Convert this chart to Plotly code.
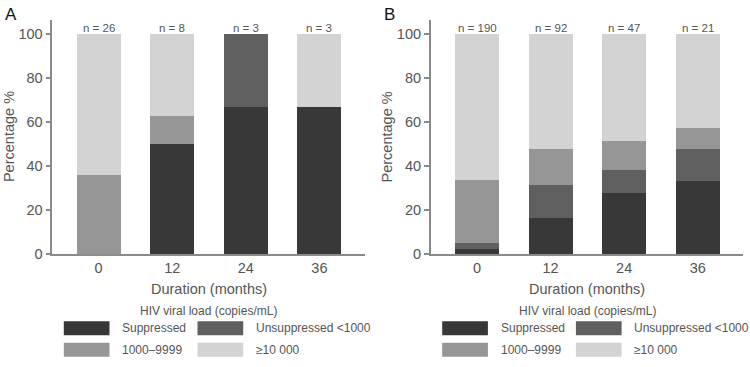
import plotly.graph_objects as go

# ---- data ----
months = ["0", "12", "24", "36"]
series_names = ["Suppressed", "Unsuppressed <1000", "1000–9999", "≥10 000"]
series_colors = ["#383838", "#5f5f5f", "#969696", "#d3d3d3"]

A_suppressed = [0, 50.0, 66.7, 66.7]
A_unsuppressed = [0, 0, 33.3, 0]
A_mid = [35.8, 12.5, 0, 0]
A_high = [64.2, 37.5, 0, 33.3]
A_n = [26, 8, 3, 3]

B_suppressed = [2.4, 16.3, 27.7, 33.3]
B_unsuppressed = [2.5, 15.2, 10.6, 14.3]
B_mid = [28.5, 16.3, 12.8, 9.5]
B_high = [66.6, 52.2, 48.9, 42.9]
B_n = [190, 92, 47, 21]

W, H = 750, 367
FONT = "Liberation Sans, Arial, sans-serif"
GREY_TXT = "#555555"
AX = "#8a8a8a"

def px_x(x):
    return x / W

def px_y(y):
    return (H - y) / H

fig = go.Figure()

panels = [
    ("A", "x", "y", [A_suppressed, A_unsuppressed, A_mid, A_high], A_n, 52.3, 365.0),
    ("B", "x2", "y2", [B_suppressed, B_unsuppressed, B_mid, B_high], B_n, 430.7, 743.3),
]

annotations = []
shapes = []
for label, xa, ya, vals, ns, left, right in panels:
    for name, color, v in zip(series_names, series_colors, vals):
        fig.add_trace(go.Bar(x=months, y=v, name=name, marker=dict(color=color, line=dict(width=0)),
                             width=0.6, xaxis=xa, yaxis=ya, showlegend=False))
    # n labels (category axis -> serial index)
    for i, n in enumerate(ns):
        annotations.append(dict(x=i, y=100, xref=xa, yref=ya, text=f"n = {n}", showarrow=False,
                                yanchor="bottom", yshift=-2, font=dict(size=11.5, color=GREY_TXT, family=FONT)))
    cx = (left + right) / 2
    # panel letter
    annotations.append(dict(x=px_x(left - 49), y=px_y(14.5), xref="paper", yref="paper", text=label,
                            showarrow=False, xanchor="left", yanchor="middle",
                            font=dict(size=17, color="#111111", family=FONT)))
    # axis titles
    annotations.append(dict(x=px_x(cx), y=px_y(295), xref="paper", yref="paper", text="Duration (months)",
                            showarrow=False, xanchor="center", yanchor="middle",
                            font=dict(size=14.5, color=GREY_TXT, family=FONT)))
    annotations.append(dict(x=px_x(left - 44), y=px_y(139.8), xref="paper", yref="paper", text="Percentage %",
                            showarrow=False, xanchor="center", yanchor="middle", textangle=-90,
                            font=dict(size=14.5, color=GREY_TXT, family=FONT)))
    # legend title
    annotations.append(dict(x=px_x(cx), y=px_y(318.3), xref="paper", yref="paper",
                            text="HIV viral load (copies/mL)", showarrow=False,
                            xanchor="center", yanchor="middle",
                            font=dict(size=12, color=GREY_TXT, family=FONT)))
    # legend entries 2x2
    col_off = [11.5, 145.2]
    row_y = [335.5, 357.5]
    for i, (name, color) in enumerate(zip(series_names, series_colors)):
        r, c = divmod(i, 2)
        x0 = left + col_off[c]
        yc = row_y[r]
        shapes.append(dict(type="rect", xref="paper", yref="paper",
                           x0=px_x(x0), x1=px_x(x0 + 45.7), y0=px_y(yc + 7.2), y1=px_y(yc - 7.2),
                           fillcolor=color, line=dict(width=0)))
        annotations.append(dict(x=px_x(x0 + 56.3), y=px_y(yc), xref="paper", yref="paper", text=name,
                                showarrow=False, xanchor="left", yanchor="middle",
                                font=dict(size=12, color=GREY_TXT, family=FONT)))

ydom = [px_y(259.7), px_y(20)]
axis_common = dict(showgrid=False, zeroline=False, showline=True, linecolor=AX, linewidth=1.5,
                   tickfont=dict(size=14.5, color=GREY_TXT, family=FONT))
xaxis_common = dict(axis_common, type="category", range=[-0.63, 3.62], ticks="", fixedrange=True)
yaxis_common = dict(axis_common, range=[0, 106.4], tickvals=[0, 20, 40, 60, 80, 100], ticks="outside",
                    ticklen=5, tickcolor=AX, tickwidth=1.5)

fig.update_layout(
    width=W, height=H, margin=dict(l=0, r=0, t=0, b=0),
    paper_bgcolor="white", plot_bgcolor="white", barmode="stack", bargap=0.4,
    font=dict(family=FONT),
    xaxis=dict(xaxis_common, domain=[px_x(52.3), px_x(365.0)], anchor="y"),
    yaxis=dict(yaxis_common, domain=ydom, anchor="x"),
    xaxis2=dict(xaxis_common, domain=[px_x(430.7), px_x(743.3)], anchor="y2"),
    yaxis2=dict(yaxis_common, domain=ydom, anchor="x2"),
    annotations=annotations, shapes=shapes,
)

post = (
    "var d=document.documentElement,b=document.body;"
    "d.style.margin='0';d.style.padding='0';d.style.overflow='hidden';"
    "b.style.margin='0';b.style.padding='0';b.style.overflow='hidden';"
    "var gd=document.getElementById('{plot_id}');"
    "gd.style.width=window.innerWidth+'px';gd.style.height=window.innerHeight+'px';"
    "Plotly.relayout(gd,{width:window.innerWidth,height:window.innerHeight});"
)
fig.write_html("out.html", config={"displayModeBar": False, "responsive": False}, post_script=post)
